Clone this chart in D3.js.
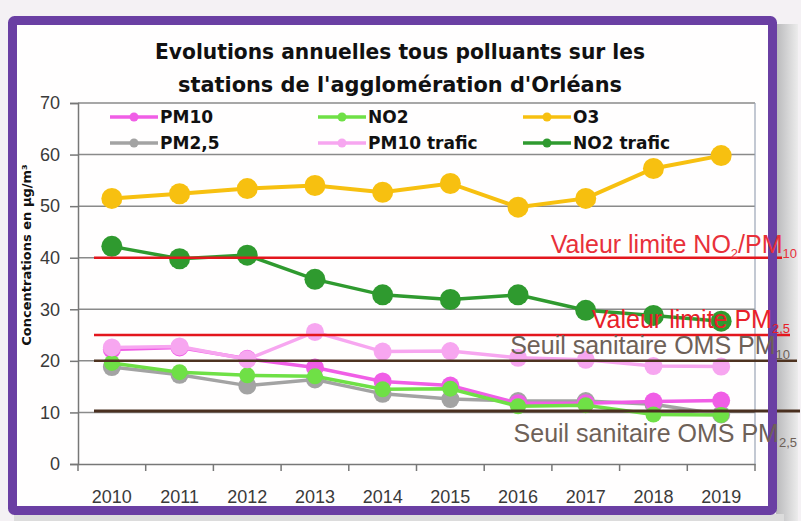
<!DOCTYPE html>
<html><head><meta charset="utf-8">
<script src="https://cdn.jsdelivr.net/npm/d3@7"></script>
<style>body{margin:0;background:#f3f1f3;}svg{display:block;}</style>
</head><body>
<svg id="c" width="801" height="521"></svg>
<script>
const years = ["2010","2011","2012","2013","2014","2015","2016","2017","2018","2019"];
const yTicks = [0,10,20,30,40,50,60,70];
const pm10 = [22.2,22.6,20.4,18.7,16.0,15.2,11.8,11.8,12.1,12.3];
const no2 = [19.6,17.8,17.2,17.0,14.5,14.6,11.2,11.4,9.6,9.5];
const o3 = [51.5,52.4,53.4,54.0,52.7,54.4,49.8,51.5,57.3,59.8];
const pm25 = [18.8,17.3,15.2,16.4,13.6,12.6,12.2,12.2,11.6,9.6];
const pm10Trafic = [22.6,22.8,20.3,25.6,21.8,21.9,20.6,20.2,19.0,18.9];
const no2Trafic = [42.2,39.8,40.5,35.8,32.8,31.9,32.8,29.8,28.8,27.7];
const seriesNames = ["PM10","NO2","O3","PM2,5","PM10 trafic","NO2 trafic"];
const thresholdValues = [40,25,20,10.3];
const titleLines = ["Evolutions annuelles tous polluants sur les","stations de l'agglomération d'Orléans"];

const svg = d3.select("#c");
const defs = svg.append("defs");
const g1 = defs.append("linearGradient").attr("id","sh").attr("x1",0).attr("x2",1);
g1.append("stop").attr("offset",0).attr("stop-color","#b9b9bb");
g1.append("stop").attr("offset",1).attr("stop-color","#ececec");
svg.append("rect").attr("x",0).attr("y",0).attr("width",801).attr("height",521).attr("fill","#f4f1f4");
svg.append("rect").attr("x",776).attr("y",24).attr("width",22).attr("height",497).attr("fill","url(#sh)");
svg.append("rect").attr("x",14).attr("y",514).attr("width",770).attr("height",7).attr("fill","#dcdcdc");
svg.append("rect").attr("x",12.5).attr("y",20.5).attr("width",760).attr("height",490).attr("fill","#fffefe");

const x = d3.scaleBand().domain(years).range([78,755]).padding(0);
const y = d3.scaleLinear().domain([0,70]).range([464,103]);
const cx = d => x(d) + x.bandwidth()/2;

svg.append("g").selectAll("line").data(yTicks.filter(t=>t>0)).join("line")
  .attr("x1",78).attr("x2",755).attr("y1",d=>y(d)).attr("y2",d=>y(d))
  .attr("stroke","#8a8a8a").attr("stroke-width",1.5);
svg.append("line").attr("x1",755).attr("x2",755).attr("y1",y(70)).attr("y2",y(0)).attr("stroke","#9aa3b5").attr("stroke-width",1.2);

const yAxis = svg.append("g").attr("transform","translate(78,0)")
  .call(d3.axisLeft(y).tickValues(yTicks).tickSize(8).tickPadding(10));
yAxis.select(".domain").attr("stroke","#777").attr("stroke-width",1.5);
yAxis.selectAll(".tick line").attr("stroke","#777").attr("stroke-width",1.5);
yAxis.selectAll("text").attr("font-family","Liberation Sans, Arial, sans-serif").attr("font-size",18).attr("fill","#3a3a3a");

const xAxis = svg.append("g").attr("transform","translate(0,464)")
  .call(d3.axisBottom(x).tickSize(0).tickPadding(26));
xAxis.select(".domain").attr("stroke","#777").attr("stroke-width",1.5);
xAxis.selectAll("text").attr("font-family","Liberation Sans, Arial, sans-serif").attr("font-size",18).attr("fill","#3a3a3a");
svg.append("g").selectAll("line").data(d3.range(years.length+1)).join("line")
  .attr("x1",i=>78+i*x.bandwidth()).attr("x2",i=>78+i*x.bandwidth())
  .attr("y1",464).attr("y2",471).attr("stroke","#777").attr("stroke-width",1.5);

const series = [
  {name:"PM2,5", vals:pm25, color:"#a3a3a3", r:9, w:3.5},
  {name:"PM10", vals:pm10, color:"#f05ee6", r:9, w:3.5},
  {name:"NO2", vals:no2, color:"#6fe046", r:8, w:3.5},
  {name:"PM10 trafic", vals:pm10Trafic, color:"#f7a6f0", r:9, w:3.5},
  {name:"O3", vals:o3, color:"#f7c010", r:10.5, w:4},
  {name:"NO2 trafic", vals:no2Trafic, color:"#2f9a2f", r:10.5, w:3.5}
];
const line = d3.line().x((d,i)=>cx(years[i])).y(d=>y(d));
series.forEach(s=>{
  const g = svg.append("g");
  g.append("path").datum(s.vals).attr("d",line).attr("fill","none").attr("stroke",s.color).attr("stroke-width",s.w);
  g.selectAll("circle").data(s.vals).join("circle")
    .attr("cx",(d,i)=>cx(years[i])).attr("cy",d=>y(d)).attr("r",s.r).attr("fill",s.color);
});

const colorOf = n => series.find(s=>s.name===n).color;
const legX = [110,318,523], legY = [117,143];
seriesNames.forEach((n,i)=>{
  const lx = legX[i%3], ly = legY[Math.floor(i/3)];
  svg.append("line").attr("x1",lx).attr("x2",lx+48).attr("y1",ly).attr("y2",ly).attr("stroke",colorOf(n)).attr("stroke-width",3.5);
  svg.append("circle").attr("cx",lx+24).attr("cy",ly).attr("r",4.5).attr("fill",colorOf(n));
  svg.append("text").attr("x",lx+50).attr("y",ly+6).text(n)
    .attr("font-family","Comic Sans MS, DejaVu Sans, sans-serif").attr("font-weight","bold").attr("font-size",17).attr("fill","#111");
});

const thr = [
  {v:thresholdValues[0], color:"#e3161d", x2:782, w:2.5},
  {v:thresholdValues[1], color:"#e3161d", x2:790, w:2.5},
  {v:thresholdValues[2], color:"#4e3320", x2:797, w:2.5},
  {v:thresholdValues[3], color:"#4a3020", x2:800, w:3}
];
svg.append("g").selectAll("line").data(thr).join("line")
  .attr("x1",94).attr("x2",d=>d.x2).attr("y1",d=>y(d.v)).attr("y2",d=>y(d.v))
  .attr("stroke",d=>d.color).attr("stroke-width",d=>d.w);

svg.append("rect").attr("x",12.5).attr("y",20.5).attr("width",760).attr("height",490)
  .attr("fill","none").attr("stroke","#6a3fa3").attr("stroke-width",9).attr("rx",2);

function label(xr, yb, color, main, sub1, mid, sub2){
  const t = svg.append("text").attr("x",xr).attr("y",yb).attr("text-anchor","end")
    .attr("font-family","Liberation Sans, Arial, sans-serif").attr("font-size",25).attr("fill",color);
  t.append("tspan").text(main);
  if(sub1){ t.append("tspan").attr("font-size",13).attr("dy",5).text(sub1); }
  if(mid){ t.append("tspan").attr("dy",-5).text(mid); }
  if(sub2){ t.append("tspan").attr("font-size",13).attr("dy",5).text(sub2); }
  return t;
}
label(797,253,"#e8303a","Valeur limite NO","2","/PM","10");
label(790,328,"#e8202a","Valeur limite PM","2,5");
label(790,354,"#6e6158","Seuil sanitaire OMS PM","10");
label(797,442,"#6e6158","Seuil sanitaire OMS PM","2,5");

titleLines.forEach((t,i)=>{
  svg.append("text").attr("x",400).attr("y",[59,92][i]).attr("text-anchor","middle")
    .attr("font-family","Comic Sans MS, DejaVu Sans, sans-serif").attr("font-weight","bold").attr("font-size",21)
    .attr("textLength",[490,444][i]).attr("lengthAdjust","spacingAndGlyphs").attr("fill","#111").text(t);
});

svg.append("text").attr("transform","translate(31,255) rotate(-90)").attr("text-anchor","middle")
  .attr("font-family","Comic Sans MS, DejaVu Sans, sans-serif").attr("font-weight","bold").attr("font-size",13).attr("fill","#111")
  .text("Concentrations en µg/m³");
</script>
</body></html>
